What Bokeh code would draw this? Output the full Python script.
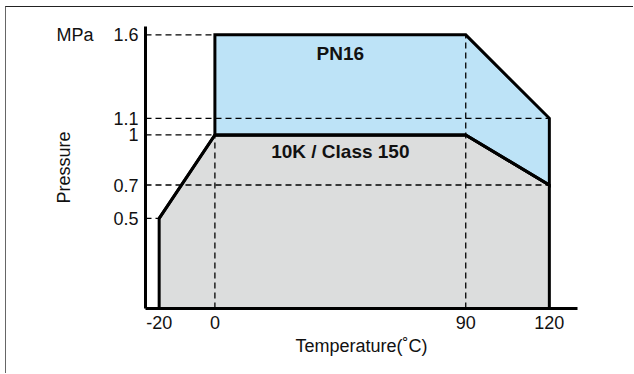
from bokeh.plotting import figure
from bokeh.models import FixedTicker, Label, Range1d, LinearAxis
from bokeh.embed import file_html
from bokeh.resources import INLINE

# ---- data ----
pn16_t = [0, 0, 90, 120, 120, 90]
pn16_p = [1.0, 1.6, 1.6, 1.1, 0.7, 1.0]
k10_t = [-20, -20, 0, 90, 120, 120]
k10_p = [None, 0.5, 1.0, 1.0, 0.7, None]   # None -> baseline of the chart
x_ticks = [-20, 0, 90, 120]
x_tick_labels = ["-20", "0", "90", "120"]
y_ticks = [0.5, 0.7, 1.0, 1.1, 1.6]
y_tick_labels = ["0.5", "0.7", "1", "1.1", "1.6"]
# guide (dashed) lines: horizontal ones run from the axis to temp, vertical ones from the baseline to pressure
h_guides_p = [1.6, 1.1, 1.0, 0.7, 0.5]
h_guides_t = [0, 120, 0, 120, -20]
v_guides_t = [0, 90]
v_guides_p = [1.0, 1.6]
region_names = ["PN16", "10K / Class 150"]
region_t = [45, 45]
region_p = [1.49, 0.90]
unit_label = "MPa"

X_LO, X_HI = -24.9, 130.1
Y_LO, Y_HI = -0.04, 1.65

FONT = "Arial"

p = figure(width=628, height=367, output_backend="svg", toolbar_location=None,
           x_range=Range1d(X_LO, X_HI), y_range=Range1d(Y_LO, Y_HI),
           min_border_left=139, min_border_right=57, min_border_top=19, min_border_bottom=66)
p.styles = {"margin-left": "5px", "margin-top": "6px",
            "border-top": "1px solid #222", "border-left": "1px solid #666"}
p.outline_line_color = None
p.xgrid.visible = False
p.ygrid.visible = False
p.background_fill_color = "white"

k10_py = [Y_LO if v is None else v for v in k10_p]

p.patch(k10_t, k10_py, fill_color="#DCDDDD", line_color="black", line_width=3, line_join="miter")
p.patch(pn16_t, pn16_p, fill_color="#BDE3F7", line_color="black", line_width=3, line_join="miter")

# dashed guides
p.segment(x0=[X_LO] * len(h_guides_p), y0=h_guides_p, x1=h_guides_t, y1=h_guides_p,
          line_color="black", line_width=1.3, line_dash="6 4")
p.segment(x0=v_guides_t, y0=[Y_LO] * len(v_guides_t), x1=v_guides_t, y1=v_guides_p,
          line_color="black", line_width=1.3, line_dash="6 4")

# redraw outlines on top of dashes
p.line(k10_t[1:5], k10_p[1:5], line_color="black", line_width=3, line_join="miter")

for name, t, pr in zip(region_names, region_t, region_p):
    p.add_layout(Label(x=t, y=pr, text=name, text_font=FONT, text_font_style="bold",
                       text_font_size="19px", text_align="center", text_baseline="middle",
                       text_color="#111"))

# unit label next to the top tick, carried by a second (line-less) left axis
unit_axis = LinearAxis(ticker=FixedTicker(ticks=[max(y_ticks)]),
                       major_label_overrides={max(y_ticks): unit_label})
p.add_layout(unit_axis, "left")

for ax in (p.xaxis[0], p.yaxis[0], unit_axis):
    ax.axis_line_width = 3
    ax.axis_line_color = "black"
    ax.major_tick_line_color = None
    ax.minor_tick_line_color = None
    ax.major_tick_out = 0
    ax.major_tick_in = 0
    ax.minor_tick_out = 0
    ax.major_label_text_font = FONT
    ax.major_label_text_font_size = "18px"
    ax.major_label_text_color = "#111"
    ax.axis_label_text_font = FONT
    ax.axis_label_text_font_size = "18px"
    ax.axis_label_text_font_style = "normal"
    ax.axis_label_text_color = "#111"

unit_axis.axis_line_color = None
unit_axis.major_label_standoff = 17
unit_axis.axis_label = "Pressure"
unit_axis.axis_label_standoff = -21

p.xaxis.ticker = FixedTicker(ticks=x_ticks)
p.xaxis.major_label_overrides = dict(zip(x_ticks, x_tick_labels))
p.xaxis.axis_label = "Temperature(˚C)"
p.xaxis.major_label_standoff = 7
p.xaxis.axis_label_standoff = 4

p.yaxis[0].ticker = FixedTicker(ticks=y_ticks)
p.yaxis[0].major_label_overrides = dict(zip(y_ticks, y_tick_labels))
p.yaxis[0].major_label_standoff = 7

open("out.html", "w").write(file_html(p, INLINE))
